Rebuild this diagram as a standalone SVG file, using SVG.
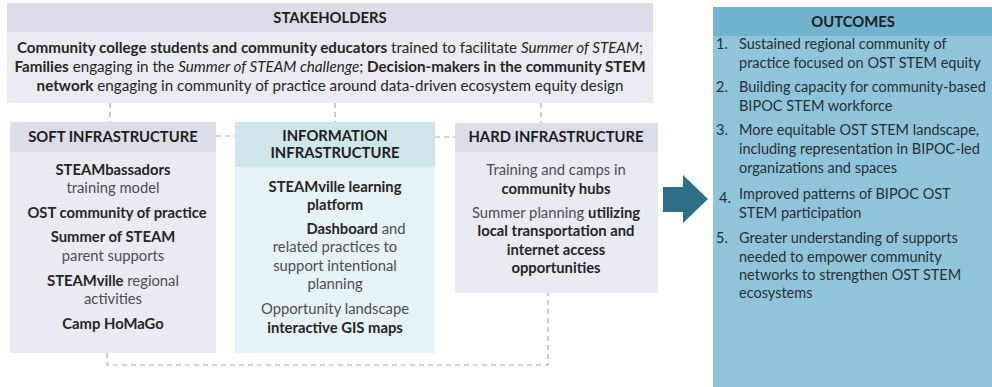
<svg xmlns="http://www.w3.org/2000/svg" width="992" height="387" viewBox="0 0 992 387">
  <style>
    text { font-family: Lato, "Noto Sans", "Liberation Sans", sans-serif; font-size: 14.8px; fill: #262626; }
    .c { text-anchor: middle; }
    .b { font-weight: bold; }
    .i { font-style: italic; }
    .h { font-weight: bold; font-size: 14.8px; fill: #1e1e1e; }
    .st { font-size: 15.2px; }
    .out { font-size: 14.5px; fill: #2a2f33; }
    .soft { fill: #4d4d55; }
    .dash { fill: none; stroke: #a9a9ad; stroke-width: 1.2; stroke-dasharray: 5 4; }
  </style>
  <rect width="992" height="387" fill="#ffffff"/>

  <!-- dashed links between the blocks -->
  <g id="connectors">
    <line class="dash" x1="110" y1="103" x2="110" y2="122"/>
    <line class="dash" x1="335" y1="103" x2="335" y2="122"/>
    <line class="dash" x1="541" y1="103" x2="541" y2="123"/>
    <line class="dash" x1="216" y1="136" x2="235" y2="136"/>
    <line class="dash" x1="435" y1="137" x2="455" y2="137"/>
    <polyline class="dash" points="107,353 107,365 548,365 548,293"/>
  </g>

  <g id="stakeholders">
    <rect x="7" y="3" width="646" height="100" fill="#ebebf3"/>
    <rect x="7" y="3" width="646" height="29" fill="#dcdce8"/>
    <text class="c h" x="330" y="23">STAKEHOLDERS</text>
    <text class="c st" x="330" y="53"><tspan class="b">Community college students and community educators</tspan> trained to facilitate <tspan class="i">Summer of STEAM</tspan>;</text>
    <text class="c st" x="330" y="72"><tspan class="b">Families</tspan> engaging in the <tspan class="i">Summer of STEAM challenge</tspan>; <tspan class="b">Decision-makers in the community STEM</tspan></text>
    <text class="c st" x="330" y="91"><tspan class="b">network</tspan> engaging in community of practice around data-driven ecosystem equity design</text>
  </g>

  <g id="soft-infrastructure">
    <rect x="10" y="122" width="206" height="231" fill="#eaeaf2"/>
    <rect x="10" y="122" width="206" height="30" fill="#dcdde8"/>
    <text class="c h" x="113" y="142">SOFT INFRASTRUCTURE</text>
    <text class="c b" x="113" y="175">STEAMbassadors</text>
    <text class="c soft" x="113" y="193">training model</text>
    <text class="c b" x="117" y="218">OST community of practice</text>
    <text class="c b" x="113" y="242">Summer of STEAM</text>
    <text class="c soft" x="113" y="261">parent supports</text>
    <text class="c soft" x="113" y="286"><tspan class="b" fill="#262626">STEAMville</tspan> regional</text>
    <text class="c soft" x="113" y="304">activities</text>
    <text class="c b" x="113" y="329">Camp HoMaGo</text>
  </g>

  <g id="information-infrastructure">
    <rect x="235" y="122" width="200" height="231" fill="#e6f2f5"/>
    <rect x="235" y="122" width="200" height="45" fill="#cfe5ea"/>
    <text class="c h" x="335" y="141">INFORMATION</text>
    <text class="c h" x="335" y="158">INFRASTRUCTURE</text>
    <text class="c b" x="335" y="192">STEAMville learning</text>
    <text class="c b" x="335" y="210">platform</text>
    <text class="c soft" x="356" y="234"><tspan class="b" fill="#262626">Dashboard</tspan> and</text>
    <text class="c soft" x="335" y="252">related practices to</text>
    <text class="c soft" x="335" y="271">support intentional</text>
    <text class="c soft" x="335" y="289">planning</text>
    <text class="c soft" x="335" y="314">Opportunity landscape</text>
    <text class="c b" x="335" y="333">interactive GIS maps</text>
  </g>

  <g id="hard-infrastructure">
    <rect x="455" y="123" width="203" height="170" fill="#eaeaf2"/>
    <rect x="455" y="123" width="203" height="29" fill="#dcdde8"/>
    <text class="c h" x="556" y="142">HARD INFRASTRUCTURE</text>
    <text class="c soft" x="556" y="175">Training and camps in</text>
    <text class="c b" x="556" y="194">community hubs</text>
    <text class="c soft" x="556" y="218">Summer planning <tspan class="b" fill="#262626">utilizing</tspan></text>
    <text class="c b" x="556" y="236">local transportation and</text>
    <text class="c b" x="556" y="255">internet access</text>
    <text class="c b" x="556" y="273">opportunities</text>
  </g>

  <g id="flow-arrow">
    <polygon points="663,187 683,187 683,175 708,199 683,223 683,212 663,212" fill="#2e6f87"/>
  </g>

  <g id="outcomes">
    <rect x="713" y="7" width="279" height="380" fill="#8fc4da"/>
    <rect x="713" y="7" width="279" height="29" fill="#72b3cf"/>
    <text class="c h" x="853" y="27">OUTCOMES</text>
    <text class="out" x="716" y="49">1.</text>
    <text class="out" x="739" y="49">Sustained regional community of</text>
    <text class="out" x="739" y="68">practice focused on OST STEM equity</text>
    <text class="out" x="716" y="92">2.</text>
    <text class="out" x="739" y="92">Building capacity for community-based</text>
    <text class="out" x="739" y="111">BIPOC STEM workforce</text>
    <text class="out" x="716" y="135">3.</text>
    <text class="out" x="739" y="135">More equitable OST STEM landscape,</text>
    <text class="out" x="739" y="154">including representation in BIPOC-led</text>
    <text class="out" x="739" y="173">organizations and spaces</text>
    <text class="out" x="719" y="203">4.</text>
    <text class="out" x="739" y="199">Improved patterns of BIPOC OST</text>
    <text class="out" x="739" y="218">STEM participation</text>
    <text class="out" x="716" y="243">5.</text>
    <text class="out" x="739" y="243">Greater understanding of supports</text>
    <text class="out" x="739" y="262">needed to empower community</text>
    <text class="out" x="739" y="280">networks to strengthen OST STEM</text>
    <text class="out" x="739" y="298">ecosystems</text>
  </g>
</svg>
